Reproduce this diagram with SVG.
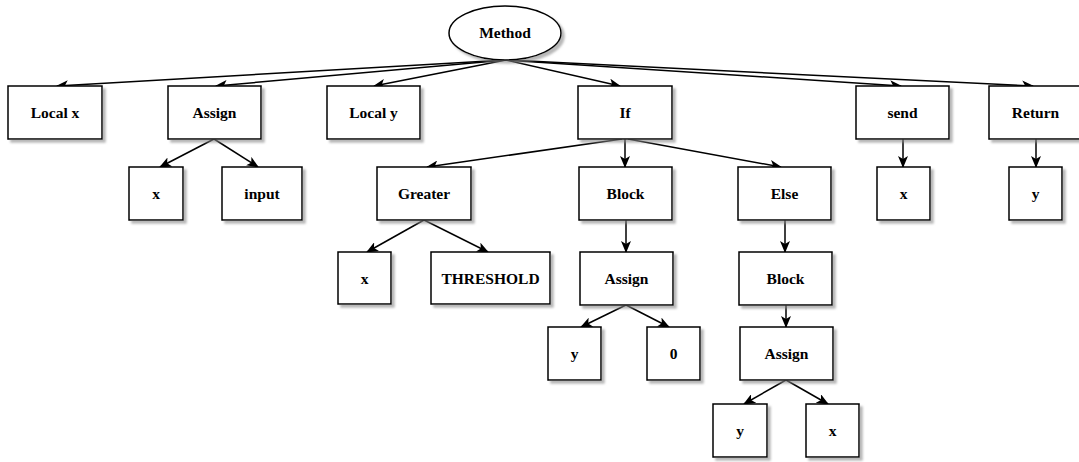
<svg xmlns="http://www.w3.org/2000/svg" width="1079" height="462" viewBox="0 0 1079 462">
<style>
.n rect, .n ellipse { fill:#fff; stroke:#000; stroke-width:1.5; filter:url(#sh); }
.n text { font-family:"Liberation Serif", "Times New Roman", serif; font-weight:bold; font-size:15.5px; fill:#000; text-anchor:middle; }
.e line { stroke:#000; stroke-width:1.5; fill:none; marker-end:url(#arr); }
</style>
<defs>
<filter id="sh" x="-20%" y="-20%" width="150%" height="150%">
<feDropShadow dx="3" dy="3" stdDeviation="1" flood-color="#888" flood-opacity="0.6"/>
</filter>
<marker id="arr" markerUnits="userSpaceOnUse" markerWidth="12" markerHeight="10" viewBox="0 0 12 10" refX="11" refY="5" orient="auto">
<path d="M0,0 L12,5 L0,10 L3,5 z" fill="#000"/>
</marker>
</defs>
<g id="connectors" class="e">
<line x1="506" y1="60" x2="57" y2="86"/>
<line x1="506" y1="60" x2="216" y2="86"/>
<line x1="506" y1="60" x2="374" y2="86"/>
<line x1="506" y1="60" x2="620" y2="86"/>
<line x1="506" y1="60" x2="901" y2="86"/>
<line x1="506" y1="60" x2="1033" y2="86"/>
<line x1="214" y1="139" x2="160" y2="167"/>
<line x1="214" y1="139" x2="258" y2="167"/>
<line x1="622" y1="139" x2="427" y2="167"/>
<line x1="625" y1="139" x2="625" y2="167"/>
<line x1="628" y1="139" x2="781" y2="167"/>
<line x1="424" y1="220" x2="367" y2="252"/>
<line x1="424" y1="220" x2="488" y2="252"/>
<line x1="626" y1="220" x2="626" y2="252"/>
<line x1="626" y1="305" x2="581" y2="327"/>
<line x1="626" y1="305" x2="669" y2="327"/>
<line x1="785" y1="220" x2="785" y2="252"/>
<line x1="786" y1="305" x2="786" y2="327"/>
<line x1="786" y1="380" x2="744" y2="404"/>
<line x1="786" y1="380" x2="828" y2="404"/>
<line x1="903" y1="139" x2="903" y2="167"/>
<line x1="1036" y1="139" x2="1036" y2="167"/>
</g>
<g id="method" class="n"><ellipse cx="505" cy="33" rx="56" ry="27"/><text x="505" y="38">Method</text></g>
<g id="localx" class="n"><rect x="8" y="86" width="94" height="53"/><text x="55" y="118">Local x</text></g>
<g id="assign1" class="n"><rect x="168" y="86" width="93" height="53"/><text x="214.5" y="118">Assign</text></g>
<g id="localy" class="n"><rect x="327" y="86" width="93" height="53"/><text x="373.5" y="118">Local y</text></g>
<g id="if" class="n"><rect x="578" y="86" width="94" height="53"/><text x="625" y="118">If</text></g>
<g id="send" class="n"><rect x="856" y="86" width="93" height="53"/><text x="902.5" y="118">send</text></g>
<g id="return" class="n"><rect x="989" y="86" width="93" height="53"/><text x="1035.5" y="118">Return</text></g>
<g id="x1" class="n"><rect x="129" y="167" width="54" height="53"/><text x="156" y="199">x</text></g>
<g id="input" class="n"><rect x="222" y="167" width="80" height="53"/><text x="262" y="199">input</text></g>
<g id="greater" class="n"><rect x="377" y="167" width="94" height="53"/><text x="424" y="199">Greater</text></g>
<g id="block1" class="n"><rect x="579" y="167" width="93" height="53"/><text x="625.5" y="199">Block</text></g>
<g id="else" class="n"><rect x="738" y="167" width="93" height="53"/><text x="784.5" y="199">Else</text></g>
<g id="x4" class="n"><rect x="877" y="167" width="53" height="53"/><text x="903.5" y="199">x</text></g>
<g id="y3" class="n"><rect x="1009" y="167" width="53" height="53"/><text x="1035.5" y="199">y</text></g>
<g id="x2" class="n"><rect x="338" y="252" width="53" height="52"/><text x="364.5" y="284">x</text></g>
<g id="threshold" class="n"><rect x="431" y="252" width="119" height="52"/><text x="490.5" y="284">THRESHOLD</text></g>
<g id="assign2" class="n"><rect x="580" y="252" width="93" height="53"/><text x="626.5" y="284">Assign</text></g>
<g id="block2" class="n"><rect x="739" y="252" width="93" height="53"/><text x="785.5" y="284">Block</text></g>
<g id="y1" class="n"><rect x="548" y="327" width="53" height="53"/><text x="574.5" y="359">y</text></g>
<g id="zero" class="n"><rect x="647" y="327" width="53" height="53"/><text x="673.5" y="359">0</text></g>
<g id="assign3" class="n"><rect x="740" y="327" width="93" height="53"/><text x="786.5" y="359">Assign</text></g>
<g id="y2" class="n"><rect x="713" y="404" width="54" height="53"/><text x="740" y="436">y</text></g>
<g id="x3" class="n"><rect x="806" y="404" width="53" height="53"/><text x="832.5" y="436">x</text></g>
</svg>
